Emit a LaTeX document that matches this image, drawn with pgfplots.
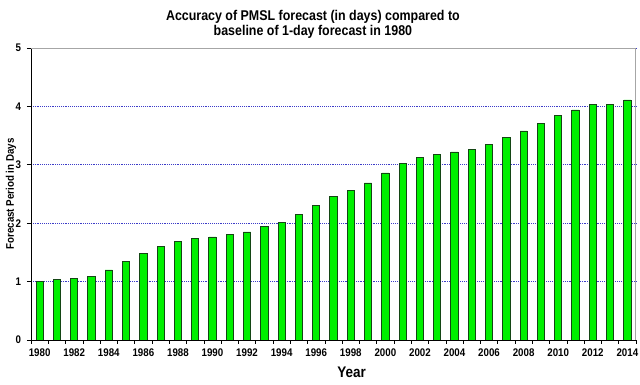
\documentclass[border=0pt]{standalone}
\usepackage{pgfplots}
\pgfplotsset{compat=1.18}
\usepackage{fontspec}
\setmainfont{Liberation Sans}
\newfontfamily\cond[FakeStretch=0.88]{Liberation Sans}
\definecolor{bargreen}{RGB}{0,240,0}
\definecolor{baredge}{RGB}{20,70,20}
\definecolor{gridblue}{RGB}{60,60,200}
\begin{document}
\begin{tikzpicture}[x=1pt,y=1pt]
\path[use as bounding box] (-23.25pt,-33.75pt) rectangle (456.75pt,255pt);
\begin{axis}[
  at={(0,0)}, anchor=south west,
  scale only axis,
  width=453.75pt, height=219pt,
  xmin=1979.5, xmax=2014.5,
  ymin=0, ymax=5,
  axis lines*=left,
  axis line style={black, line width=0.6pt},
  ybar, bar width=5.4pt,
  xtick={1980,1982,...,2014},
  minor xtick={1979.5,1980.5,...,2014.5},
  major x tick style={draw=none},
  minor tick length=3pt,
  ytick={0,1,...,5},
  major tick length=3pt,
  tick align=outside,
  tick style={black, line width=0.5pt},
  ymajorgrids,
  grid style={densely dotted, gridblue, line width=0.6pt},
  /pgf/number format/1000 sep={},
  /pgf/number format/assume math mode=true,
  ticklabel style={font=\cond\bfseries\fontsize{8.3}{10}\selectfont},
  yticklabel style={xshift=-1pt},
  xlabel={Year},
  xlabel style={font=\cond\bfseries\fontsize{11.5}{13}\selectfont, at={(axis description cs:0.53,0)}, anchor=north, yshift=-17pt},
  ylabel={Forecast Period in Days},
  ylabel style={font=\cond\bfseries\fontsize{8.3}{10}\selectfont, at={(axis description cs:-0.033,0.5)}, anchor=center, rotate=0},
  title={Accuracy of PMSL forecast (in days) compared to\\ baseline of 1-day forecast in 1980},
  title style={font=\cond\bfseries\fontsize{10.6}{11.25}\selectfont, align=center, at={(axis description cs:0.466,1)}, anchor=south, yshift=-2pt},
]
\addplot[fill=bargreen, draw=baredge, line width=0.6pt] coordinates {
(1980,1.00) (1981,1.037) (1982,1.055) (1983,1.09) (1984,1.20)
(1985,1.34) (1986,1.48) (1987,1.60) (1988,1.68) (1989,1.74)
(1990,1.765) (1991,1.81) (1992,1.85) (1993,1.94) (1994,2.01)
(1995,2.15) (1996,2.31) (1997,2.46) (1998,2.56) (1999,2.69)
(2000,2.86) (2001,3.02) (2002,3.12) (2003,3.18) (2004,3.22)
(2005,3.26) (2006,3.35) (2007,3.47) (2008,3.58) (2009,3.71)
(2010,3.84) (2011,3.94) (2012,4.03) (2013,4.04) (2014,4.11)
};
\draw[gray!70, line width=0.8pt] (rel axis cs:0,1) -- (rel axis cs:1,1) -- (rel axis cs:1,0);
\end{axis}
\end{tikzpicture}
\end{document}
